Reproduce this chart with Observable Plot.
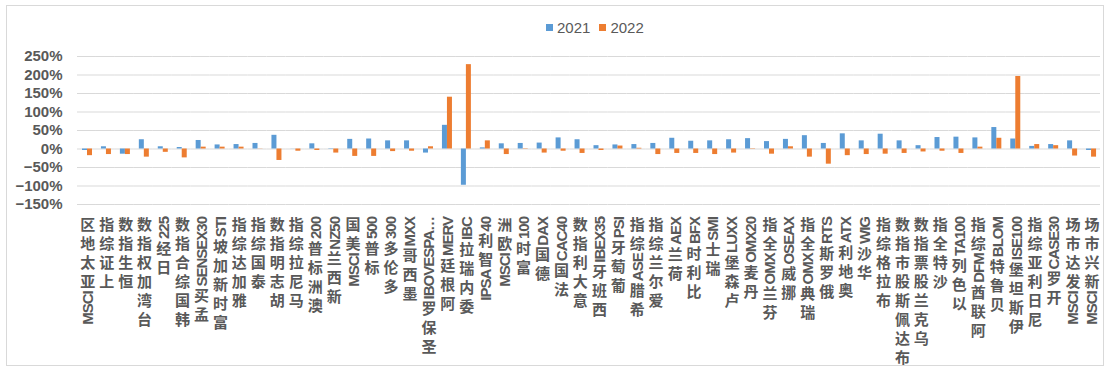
<!DOCTYPE html>
<html><head><meta charset="utf-8">
<script src="https://cdn.jsdelivr.net/npm/d3@7"></script>
<script src="https://cdn.jsdelivr.net/npm/@observablehq/plot@0.6"></script>
<style>
body{margin:0;width:1110px;height:371px;overflow:hidden;background:#fff;font-family:"Liberation Sans","Noto Sans CJK SC",sans-serif;}
#frame{position:absolute;left:6px;top:5px;width:1098px;height:361px;border:1px solid #d9d9d9;box-sizing:border-box;}
#legend{position:absolute;top:19px;left:546px;display:flex;align-items:center;font-size:15px;color:#595959;height:16px;}
.sw{width:7px;height:7px;display:inline-block;margin-right:4px;}
#chart{position:absolute;left:0;top:40px;}
#chart svg text{font-weight:700;font-family:"Liberation Sans","Noto Sans CJK SC",sans-serif;}
</style></head><body>
<div id="frame"></div>
<div id="legend"><span class="sw" style="background:#5B9BD5"></span><span>2021</span><span class="sw" style="background:#ED7D31;margin-left:9px"></span><span>2022</span></div>
<div id="chart"></div>
<script>
const categories = ["MSCI亚太地区","上证综指","恒生指数","台湾加权指数","日经225","韩国综合指数","孟买SENSEX30","富时新加坡STI","雅加达综指","泰国综指","胡志明指数","马尼拉综指","澳洲标普200","新西兰NZ50","MSCI美国","标普500","多伦多300","墨西哥MXX","圣保罗IBOVESPA…","阿根廷MERV","委内瑞拉IBC","IPSA智利40","MSCI欧洲","富时100","德国DAX","法国CAC40","意大利指数","西班牙IBEX35","葡萄牙PSI","希腊ASE综指","爱尔兰综指","荷兰AEX","比利时BFX","瑞士SMI","卢森堡LUXX","丹麦OMX20","芬兰OMX全指","挪威OSEAX","瑞典OMX全指","俄罗斯RTS","奥地利ATX","华沙WIG","布拉格综指","布达佩斯股市指数","乌克兰股票指数","沙特全指","以色列TA100","阿联酋DFM综指","贝鲁特BLOM","伊斯坦堡ISE100","尼日利亚综指","开罗CASE30","MSCI发达市场","MSCI新兴市场"];
const v2021 = [-4,6,-14,25,6,4,23,11,12,15,37,-0.3,14,-1,26,27,22,22,-11,64,-98,3,14,15,16,30,25,9,11,12,15,29,21,22,25,28,20,26,36,15,41,22,40,22,9,31,32,30,58,27,7,12,22,-4];
const v2022 = [-18,-15,-15,-22,-9,-24,5,5,5,0.5,-31,-6,-4,-11,-20,-20,-7,-6,6,140,228,22,-15,1,-11,-6,-12,-4,8,2,-15,-12,-12,-15,-11,-1,-14,6,-22,-41,-18,-15,-14,-12,-8,-6,-12,5,29,196,12,9,-19,-22];
const years = ["2021","2022"];
const colors = ["#5B9BD5","#ED7D31"];
const yTicks = [-150,-100,-50,0,50,100,150,200,250];

const rows = categories.flatMap((c,i)=>[
  {cat:c,year:years[0],value:v2021[i]},
  {cat:c,year:years[1],value:v2022[i]}
]);
const pct = d => (d<0?"\u2212":"") + Math.abs(d) + "%";

const chart = Plot.plot({
  width:1110, height:331,
  marginTop:16, marginBottom:167, marginLeft:77, marginRight:10,
  style:{fontFamily:'"Liberation Sans","Noto Sans CJK SC",sans-serif', fontSize:"15px", fontWeight:"bold", color:"#595959", background:"transparent", overflow:"visible"},
  fx:{domain:categories, padding:0, label:null},
  x:{domain:years, paddingInner:0.06, paddingOuter:0.815, axis:null},
  y:{domain:[-150,250]},
  color:{domain:years, range:colors},
  marks:[
    Plot.ruleY(yTicks,{stroke:"#d9d9d9",strokeWidth:1}),
    Plot.barY(rows,{fx:"cat",x:"year",y:"value",fill:"year"}),
    Plot.axisY({ticks:yTicks, tickSize:0, tickPadding:15, tickFormat:pct, label:null}),
    Plot.axisFx({tickRotate:-90, tickSize:0, label:null})
  ]
});
document.getElementById("chart").append(chart);

// vertical stacked labels: CJK upright, Latin rotated, reading bottom-to-top
const fs = 15, comp = 0.12*fs, shiftY = -0.86*fs, labelTop = 216;
const isC = ch => /[\u2E80-\u9FFF\uF900-\uFAFF\uFF00-\uFFEF]/.test(ch);
chart.querySelectorAll('[aria-label="fx-axis tick label"] text').forEach(t => {
  const r0 = t.getBoundingClientRect();
  const cx0 = (r0.left + r0.right)/2;
  const chars = Array.from(t.textContent);
  const dx=[], dy=[], rot=[];
  let prevY = 0;
  chars.forEach((ch,i)=>{
    const c = isC(ch);
    let d = 0;
    if (i>0) {
      const pc = isC(chars[i-1]);
      d += (pc?2.0:-0.5) + (c?2.0:-0.5);
      if (pc) d -= comp;
    }
    if (c) d += comp;
    dx.push(d.toFixed(2));
    const y = c ? shiftY : 0;
    dy.push((y-prevY).toFixed(2)); prevY = y;
    rot.push(c?90:0);
  });
  t.textContent = chars.join("");
  t.setAttribute("dx", dx.join(" "));
  t.setAttribute("dy", dy.join(" "));
  t.setAttribute("rotate", rot.join(" "));
  t.setAttribute("text-anchor","end");
  const r1 = t.getBoundingClientRect();
  const tx = cx0 + 1.5 - (r1.left + r1.right)/2;
  const ty = labelTop - r1.top;
  t.setAttribute("transform", `translate(${tx.toFixed(2)},${ty.toFixed(2)}) ${t.getAttribute("transform")||""}`);
});
</script>
</body></html>
